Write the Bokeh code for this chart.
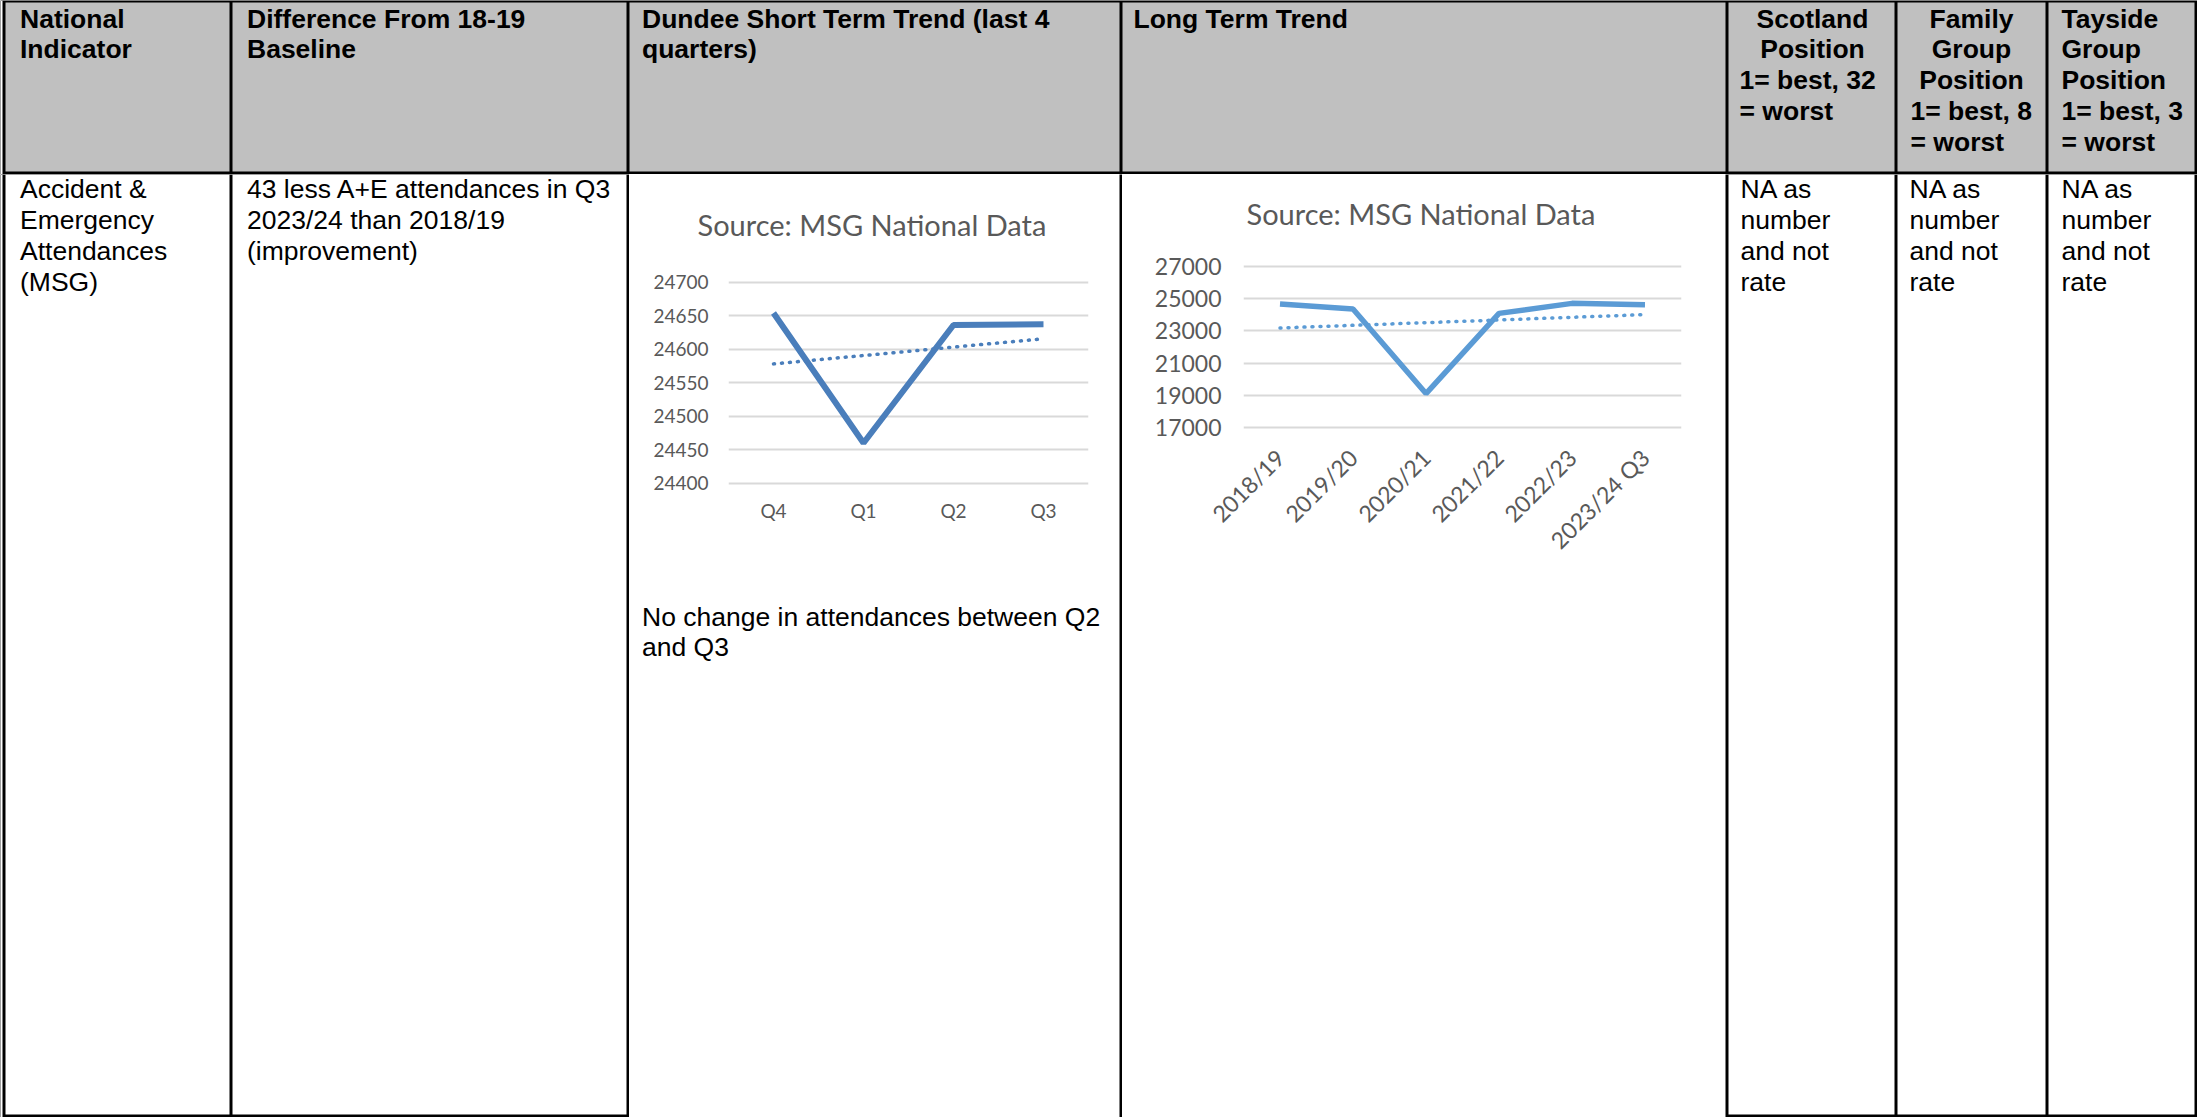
import math
import numpy as np
from bokeh.plotting import figure
from bokeh.layouts import row, column
from bokeh.models import Range1d, FactorRange, FixedTicker, Title
from bokeh.core.properties import value
from bokeh.embed import file_html
from bokeh.resources import INLINE

# ---------------- data ----------------
short_categories = ["Q4", "Q1", "Q2", "Q3"]
short_values = [24654, 24460, 24636, 24637]
short_y_ticks = [24400, 24450, 24500, 24550, 24600, 24650, 24700]

long_categories = ["2018/19", "2019/20", "2020/21", "2021/22", "2022/23", "2023/24 Q3"]
long_values = [24680, 24366, 19100, 24094, 24716, 24637]
long_y_ticks = [17000, 19000, 21000, 23000, 25000, 27000]

chart_title = "Source: MSG National Data"

header_cells = [
    ["National", "Indicator"],
    ["Difference From 18-19", "Baseline"],
    ["Dundee Short Term Trend (last 4", "quarters)"],
    ["Long Term Trend"],
    ["Scotland", "Position", "1= best, 32", "= worst"],
    ["Family", "Group", "Position", "1= best, 8", "= worst"],
    ["Tayside", "Group", "Position", "1= best, 3", "= worst"],
]
body_cells = [
    ["Accident &", "Emergency", "Attendances", "(MSG)"],
    ["43 less A+E attendances in Q3", "2023/24 than 2018/19", "(improvement)"],
    ["NA as", "number", "and not", "rate"],
    ["NA as", "number", "and not", "rate"],
    ["NA as", "number", "and not", "rate"],
]
short_note = ["No change in attendances between Q2", "and Q3"]

# ---------------- styles ----------------
TFONT = value("Liberation Sans")
TSIZE = value("26.5px")
LINE_STEP = 30.9
HEADER_BG = "#c0c0c0"
CFONT = "Lato"
CCOLOR = "#595959"
GRID = "#d9d9d9"


def cell_fig(x0, x1, y0, y1, bg="white"):
    p = figure(width=x1 - x0, height=y1 - y0,
               x_range=Range1d(x0, x1), y_range=Range1d(y1, y0),
               x_axis_type=None, y_axis_type=None,
               output_backend="svg", toolbar_location=None, min_border=0,
               background_fill_color=bg, border_fill_color=bg,
               outline_line_color=None)
    p.grid.visible = False
    return p


def add_text(p, x, y0, lines, align="left", bold=False):
    xs = [x] * len(lines)
    ys = [y0 + i * LINE_STEP for i in range(len(lines))]
    p.text(x=xs, y=ys, text=lines, text_font=TFONT, text_font_size=TSIZE,
           text_font_style="bold" if bold else "normal",
           text_align=align, text_baseline="alphabetic", text_color="black")


# ---------------- header row ----------------
hdr = cell_fig(0, 2197, 0, 174, bg="black")
cols = [(5, 229), (232, 626), (629, 1119), (1122, 1725), (1728, 1894), (1897, 2045), (2048, 2194)]
hdr.quad(left=[c[0] for c in cols], right=[c[1] for c in cols],
         top=[2] * len(cols), bottom=[171] * len(cols),
         fill_color=HEADER_BG, line_color=None)
hdr.quad(left=[0], right=[2], top=[0], bottom=[174], fill_color="white", line_color=None)
hy = 18
add_text(hdr, 19.5, hy, header_cells[0], bold=True)
add_text(hdr, 246.5, hy, header_cells[1], bold=True)
add_text(hdr, 641.5, hy, header_cells[2], bold=True)
add_text(hdr, 1133, hy, header_cells[3], bold=True)
add_text(hdr, 1812, hy, header_cells[4][:2], align="center", bold=True)
add_text(hdr, 1739, hy + 2 * LINE_STEP, header_cells[4][2:], bold=True)
add_text(hdr, 1971, hy, header_cells[5][:3], align="center", bold=True)
add_text(hdr, 1910, hy + 3 * LINE_STEP, header_cells[5][3:], bold=True)
add_text(hdr, 2061, hy, header_cells[6], bold=True)

# ---------------- body: left cells ----------------
by = 188.5
left = cell_fig(0, 629, 174, 1117, bg="black")
left.quad(left=[5, 232], right=[229, 626], top=[174, 174], bottom=[1114, 1114],
          fill_color="white", line_color=None)
left.quad(left=[0], right=[2], top=[174], bottom=[1117], fill_color="white", line_color=None)
add_text(left, 19.5, by, body_cells[0])
add_text(left, 246.5, by, body_cells[1])

# ---------------- short term chart ----------------
p2 = figure(width=490, height=940, x_range=FactorRange(*short_categories),
            y_range=Range1d(24395, 24747.2), output_backend="svg", toolbar_location=None,
            min_border_left=99, min_border_right=31, min_border_top=76, min_border_bottom=628,
            outline_line_color=None, title=chart_title,
            background_fill_color="white", border_fill_color="white")
p2.line(x=short_categories, y=short_values, line_width=6, line_color="#4a7ebb")
sx = np.arange(len(short_values))
sfit = np.polyfit(sx, short_values, 1)
p2.line(x=short_categories, y=list(np.polyval(sfit, sx)), line_width=3.5,
        line_color="#4a7ebb", line_dash="1 7", line_cap="round")

# note under the short-term chart (two-line text)
note = Title(text="\n".join(short_note), align="left", offset=641.5 - 728, standoff=151,
             text_font="Liberation Sans", text_font_size="26.5px",
             text_font_style="normal", text_color="black")
p2.add_layout(note, "below")

# ---------------- long term chart ----------------
p3 = figure(width=603, height=940, x_range=FactorRange(*long_categories),
            y_range=Range1d(16800, 28630), output_backend="svg", toolbar_location=None,
            min_border_left=121, min_border_right=44, min_border_top=66, min_border_bottom=684,
            outline_line_color=None, title=chart_title,
            background_fill_color="white", border_fill_color="white")
p3.line(x=long_categories, y=long_values, line_width=5.5, line_color="#5b9bd5")
lx = np.arange(len(long_values))
lfit = np.polyfit(lx, long_values, 1)
p3.line(x=long_categories, y=list(np.polyval(lfit, lx)), line_width=3.5,
        line_color="#5b9bd5", line_dash="1 7", line_cap="round")

for p, ticks, lsize, offs, stand, ystand, xstand in (
        (p2, short_y_ticks, "19px", -31, 18, 20, 12),
        (p3, long_y_ticks, "23px", 3, 20, 22, 23)):
    p.title.text_font = CFONT
    p.title.text_font_size = "29px"
    p.title.text_font_style = "normal"
    p.title.text_color = CCOLOR
    p.title.align = "left"
    p.title.offset = offs
    p.title.standoff = stand
    p.yaxis.ticker = FixedTicker(ticks=ticks)
    p.xgrid.grid_line_color = None
    p.ygrid.grid_line_color = GRID
    p.ygrid.grid_line_width = 2
    for ax in (p.xaxis, p.yaxis):
        ax.axis_line_color = None
        ax.major_tick_line_color = None
        ax.minor_tick_line_color = None
        ax.major_tick_out = 0
        ax.major_tick_in = 0
        ax.major_label_text_font = CFONT
        ax.major_label_text_font_size = lsize
        ax.major_label_text_color = CCOLOR
    p.yaxis.major_label_standoff = ystand
    p.xaxis.major_label_standoff = xstand

p3.xaxis.major_label_orientation = math.pi / 4

# ---------------- bottom borders under the charts ----------------
bl2 = cell_fig(629, 1119, 1114, 1117, bg="black")
bl3 = cell_fig(1122, 1725, 1114, 1117, bg="black")
b3 = cell_fig(1119, 1122, 174, 1117, bg="black")

# ---------------- body: right cells ----------------
right = cell_fig(1725, 2197, 174, 1117, bg="black")
right.quad(left=[1728, 1897, 2048], right=[1894, 2045, 2194], top=[174] * 3, bottom=[1114] * 3,
           fill_color="white", line_color=None)
add_text(right, 1740, by, body_cells[2])
add_text(right, 1909, by, body_cells[3])
add_text(right, 2061, by, body_cells[4])

layout = column(hdr, row(left, column(p2, bl2), b3, column(p3, bl3), right))

open("out.html", "w").write(file_html(layout, INLINE))
